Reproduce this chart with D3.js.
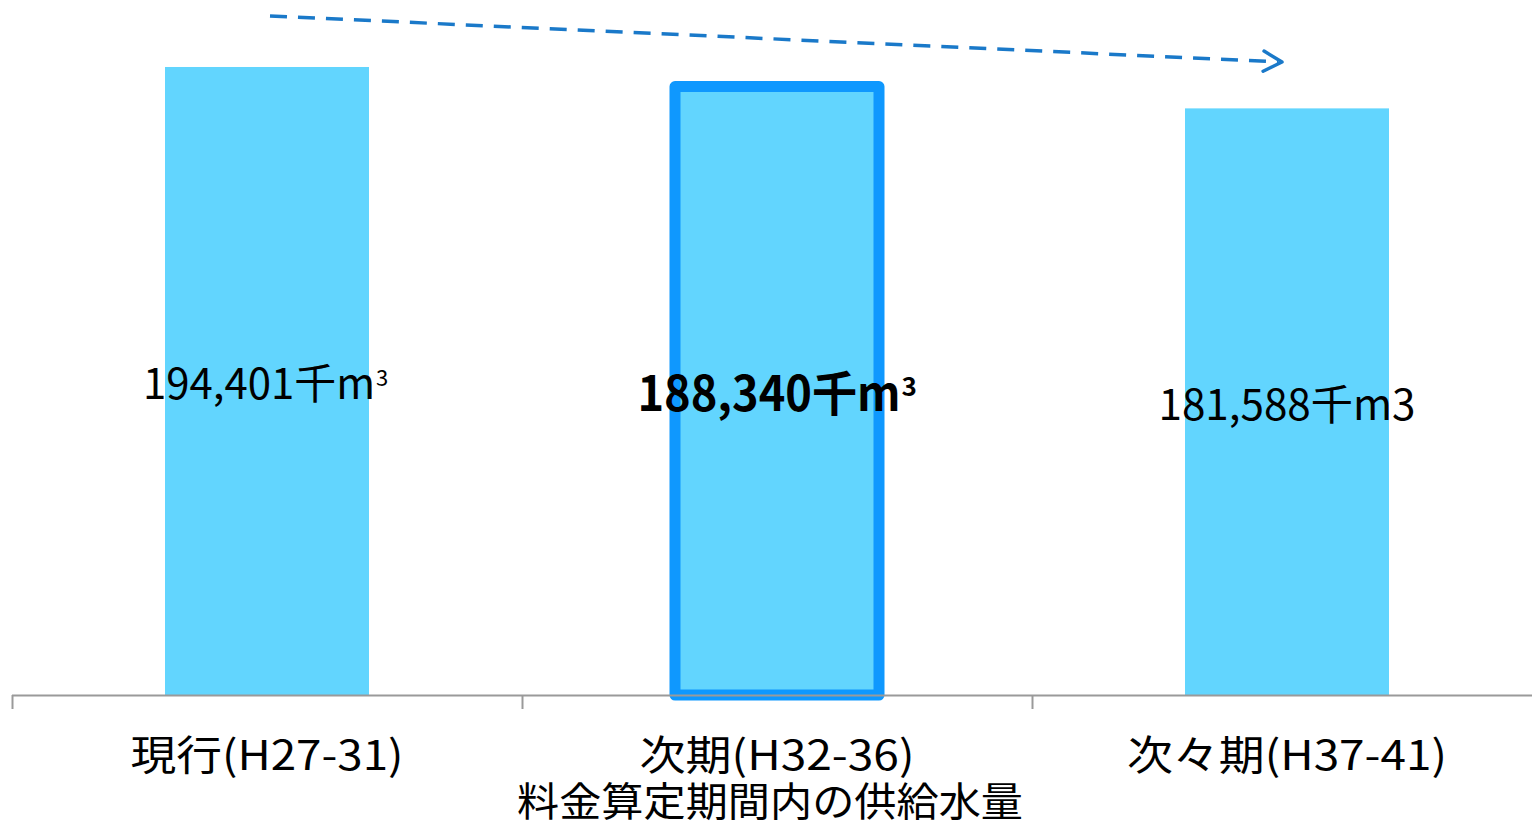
<!DOCTYPE html>
<html lang="ja">
<head>
<meta charset="utf-8">
<title>料金算定期間内の供給水量</title>
<script src="https://cdn.jsdelivr.net/npm/d3@7"></script>
<style>
  html, body { margin: 0; padding: 0; background: #ffffff; }
  svg { display: block; }
  text { font-family: "Noto Sans CJK JP", "Noto Sans", sans-serif; fill: #000; }
</style>
</head>
<body>
<svg id="chart" width="1532" height="825"></svg>
<script>
// Supply volume per tariff period (thousand m3)
const categories = ["現行(H27-31)", "次期(H32-36)", "次々期(H37-41)"];
const values = [194401, 188340, 181588];
const valueTexts = ["194,401", "188,340", "181,588"];
const unitTexts = ["千m", "千m", "千m3"];
const unitSuperscript = ["3", "3", ""];
const highlighted = [false, true, false];
const axisTitle = "料金算定期間内の供給水量";

const svg = d3.select("#chart");
const W = 1532, H = 825;

const baseY = 695;
const x = d3.scaleBand().domain(categories).range([12, 1542]).padding(0);
const y = d3.scaleLinear().domain([0, 200000]).range([baseY, 48.9]);
const barW = x.bandwidth() * 0.4;
const barX = c => x(c) + (x.bandwidth() - barW) / 2;
const midX = c => x(c) + x.bandwidth() / 2;

const barFill = "#62d5fe";
const barEdge = "#0f98fe";

// Bars
const data = categories.map((c, i) => ({
  c, i, v: values[i], num: valueTexts[i], unit: unitTexts[i], sup: unitSuperscript[i], hi: highlighted[i]
}));

svg.append("g").selectAll("rect")
  .data(data)
  .join("rect")
  .attr("x", d => barX(d.c))
  .attr("y", d => y(d.v))
  .attr("width", barW)
  .attr("height", d => baseY - y(d.v))
  .attr("fill", barFill)
  .attr("stroke", d => d.hi ? barEdge : "none")
  .attr("stroke-width", d => d.hi ? 11 : 0)
  .attr("stroke-linejoin", "round");

// Category axis: baseline with ticks at band boundaries
const axisG = svg.append("g");
axisG.append("line")
  .attr("x1", x.range()[0]).attr("x2", W)
  .attr("y1", baseY + 0.5).attr("y2", baseY + 0.5)
  .attr("stroke", "#9a9a9a").attr("stroke-width", 2);
axisG.selectAll("line.tick")
  .data(categories)
  .join("line")
  .attr("class", "tick")
  .attr("x1", c => x(c) + 0.5).attr("x2", c => x(c) + 0.5)
  .attr("y1", baseY).attr("y2", baseY + 14)
  .attr("stroke", "#9a9a9a").attr("stroke-width", 2);

const catLabelWidths = [273, 275, 320];
axisG.selectAll("text.cat")
  .data(categories)
  .join("text")
  .attr("class", "cat")
  .attr("x", c => midX(c))
  .attr("y", 770)
  .attr("text-anchor", "middle")
  .attr("font-size", 41)
  .attr("textLength", (c, i) => catLabelWidths[i])
  .attr("lengthAdjust", "spacingAndGlyphs")
  .text(c => c);

svg.append("text")
  .attr("x", 770)
  .attr("y", 816)
  .attr("text-anchor", "middle")
  .attr("font-size", 40)
  .attr("textLength", 506)
  .attr("lengthAdjust", "spacingAndGlyphs")
  .text(axisTitle);

// Value labels inside the bars; the superscript is set as its own text
const labelBase = [399, 411, 420];
const labelSize = [42, 48, 42];
const labelLeft = [145, 637, 1158];
const labelMainWidth = [232, 263, 257];
const supSize = [22, 26, 0];
const labelG = svg.append("g");
labelG.selectAll("text.val")
  .data(data)
  .join("text")
  .attr("class", "val")
  .attr("x", d => midX(d.c) - (labelMainWidth[d.i] + (d.sup ? 16 : 0)) / 2)
  .attr("y", d => labelBase[d.i])
  .attr("font-size", d => labelSize[d.i])
  .attr("font-weight", d => d.hi ? "bold" : "normal")
  .attr("textLength", d => labelMainWidth[d.i])
  .attr("lengthAdjust", "spacingAndGlyphs")
  .text(d => d.num + d.unit);
labelG.selectAll("text.sup")
  .data(data.filter(d => d.sup !== ""))
  .join("text")
  .attr("class", "sup")
  .attr("x", d => midX(d.c) - (labelMainWidth[d.i] + 16) / 2 + labelMainWidth[d.i] + 1)
  .attr("y", d => labelBase[d.i] - (d.hi ? 15 : 13))
  .attr("font-size", d => supSize[d.i])
  .attr("font-weight", d => d.hi ? "bold" : "normal")
  .text(d => d.sup);

// Dashed trend arrow across the periods
const arrowStart = [midX(categories[0]) + 3, 16];
const arrowEnd = [midX(categories[2]) - 5, 62];
const arrowColor = "#1a79c9";
svg.append("line")
  .attr("x1", arrowStart[0]).attr("y1", arrowStart[1])
  .attr("x2", arrowEnd[0] - 4).attr("y2", arrowEnd[1] - 0.2)
  .attr("stroke", arrowColor)
  .attr("stroke-width", 3.5)
  .attr("stroke-dasharray", "17 11");
const ang = Math.atan2(arrowEnd[1] - arrowStart[1], arrowEnd[0] - arrowStart[0]);
const armLen = 21, armAng = 0.5;
const p1 = [arrowEnd[0] - armLen * Math.cos(ang - armAng), arrowEnd[1] - armLen * Math.sin(ang - armAng)];
const p2 = [arrowEnd[0] - armLen * Math.cos(ang + armAng), arrowEnd[1] - armLen * Math.sin(ang + armAng)];
svg.append("path")
  .attr("d", d3.line()([p1, arrowEnd, p2]))
  .attr("fill", "none")
  .attr("stroke", arrowColor)
  .attr("stroke-width", 3.5)
  .attr("stroke-linecap", "round")
  .attr("stroke-linejoin", "round");
</script>
</body>
</html>
